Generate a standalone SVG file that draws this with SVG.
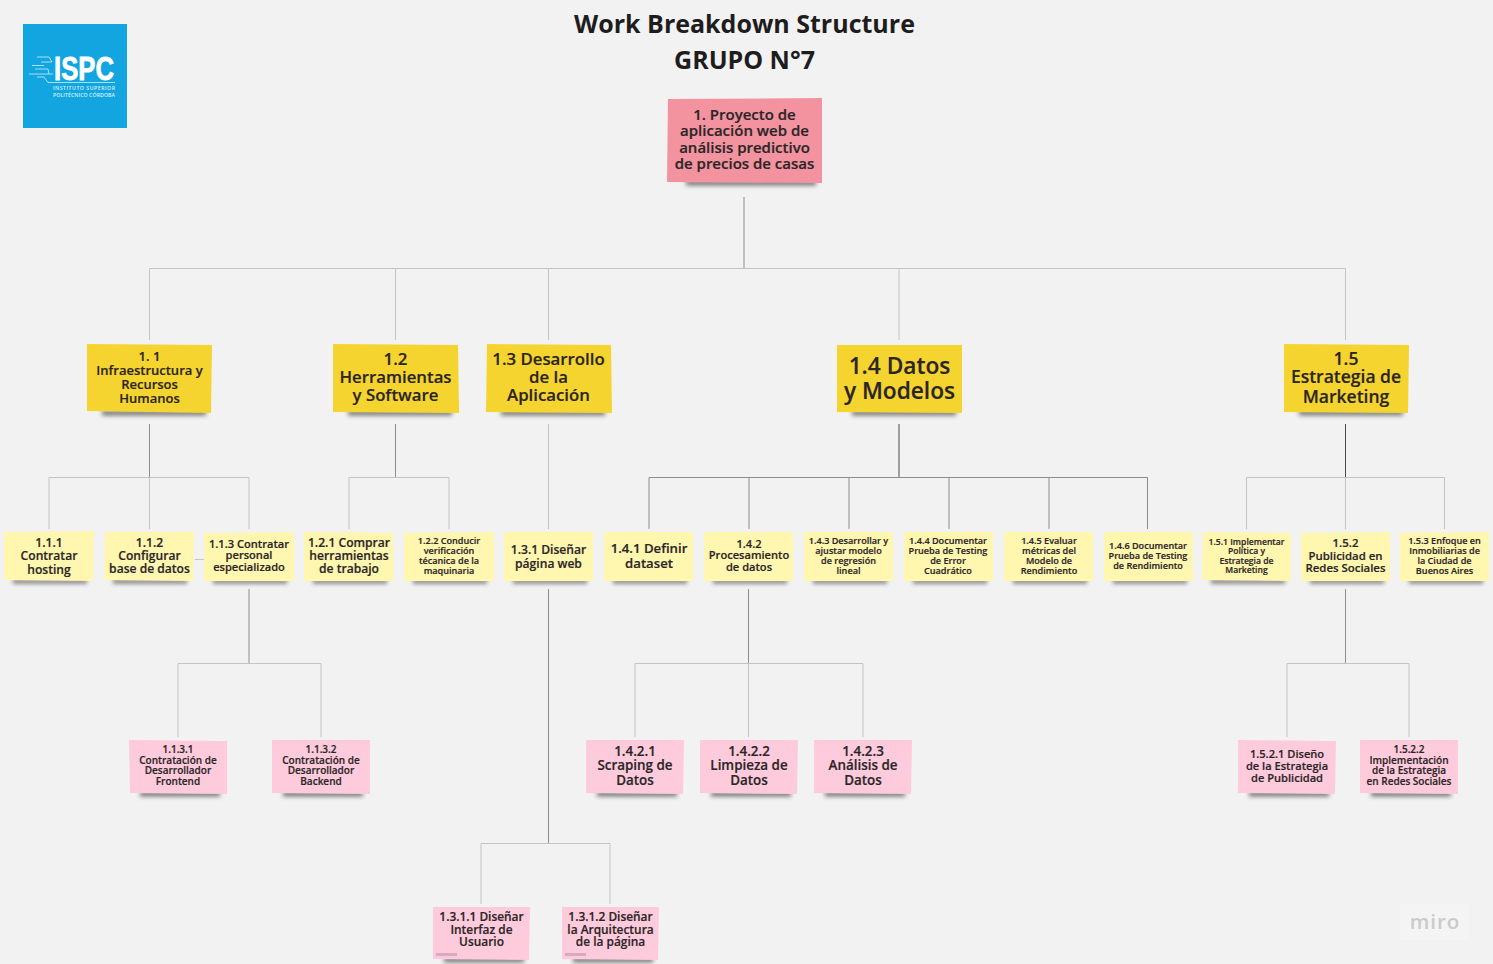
<svg xmlns="http://www.w3.org/2000/svg" width="1493" height="964" viewBox="0 0 1493 964">
<style>
text{font-family:"Open Sans","Liberation Sans",sans-serif;font-weight:600;text-anchor:middle;fill:#2a2526;stroke:#2a2526;stroke-width:.18}
.title{font-size:25px;font-weight:700;fill:#1f1c1d;stroke:none}
.sh{fill:#2c2c2c;opacity:.62;filter:url(#b);transform:translateY(1.5px)}
.red{fill:#f2939f}.gold{fill:#f6d42f}.yel{fill:#fff6b0}.pink{fill:#fecbdc}
.c{fill:none;stroke:#c4c4c4;stroke-width:1}
.s{fill:none;stroke:#8e8e8e;stroke-width:1}
.d{fill:none;stroke:#4a4a4a;stroke-width:1}
.t8{font-size:8.6px}.t9{font-size:9.1px}.t10{font-size:10px}.t11{font-size:11.1px}.t12{font-size:12.1px}.t12b{font-size:13.2px}.t13{font-size:13.4px}.t13s{font-size:13px}.t17{font-size:16.8px}.t17b{font-size:17.5px}.t23{font-size:22.7px}.t16{font-size:15px}.t12p{font-size:11.9px}.t11b{font-size:11.4px}
.circ{fill:none;stroke:#cfeefa;stroke-width:.8}
</style>
<defs><filter id="b" x="-20%" y="-100%" width="140%" height="300%"><feGaussianBlur stdDeviation="2.2"/></filter></defs>
<rect width="1493" height="964" fill="#f2f2f2"/>
<g id="connectors">
<path class="s" d="M744 197V268"/><path class="c" d="M149.500 340V268.500H1345.500V340M395.500 268V340M548.500 268V340M899 268V340"/>
<path class="s" d="M149.500 424V477M395.500 424V477"/><path class="d" d="M899 424V477M1345.500 424V477"/>
<path class="c" d="M49 529V477.500H249V529M149.500 477V529M349 529V477.500H449V529M548.500 424V529"/>
<path class="s" d="M649 529V477.500H1147.500V529M749 477V529M849 477V529M949 477V529M1049 477V529"/>
<path class="c" d="M1246.500 529V477.500H1444.500V529M1345.500 477V529M195 559.500H204"/>
<path class="s" d="M249 589V663M548.500 589V843M748.500 589V663M1345.500 589V663"/>
<path class="c" d="M178 737V663.500H321V737M481 904V843.500H610V904M635 737V663.500H863V737M748.500 663V737M1287 737V663.500H1409V737"/>
</g>
<g id="logo">
<rect x="23" y="24" width="104" height="104" fill="#12a5e0"/>
<text x="84" y="80" style="font-family:'Liberation Sans',sans-serif;font-weight:700;font-size:33px;fill:#fff;stroke:#fff;stroke-width:.8" textLength="60" lengthAdjust="spacingAndGlyphs">ISPC</text>
<path class="circ" d="M37 57H49L52 62M41 62H52M32 65.500H44M35 69H48L49 74M29 74H53M37 77H44L48 82.500H115"/>
<text x="84" y="90" style="font-size:5.200px;fill:#d8f2fc;stroke:none" textLength="62">INSTITUTO SUPERIOR</text>
<text x="84" y="97" style="font-size:5.200px;fill:#d8f2fc;stroke:none" textLength="62">POLITÉCNICO CÓRDOBA</text>
</g>
<g id="title"><text class="title" x="744.500" y="33">Work Breakdown Structure</text><text class="title" x="744.500" y="69">GRUPO N°7</text></g>

<g id="n1"><rect class="sh" x="686" y="179" width="130" height="5"/><path class="red" d="M668 99L822 98V183L667 182Z"/><text class="t16" x="744.500" y="120">1. Proyecto de</text><text class="t16" x="744.500" y="136">aplicación web de</text><text class="t16" x="744.500" y="153">análisis predictivo</text><text class="t16" x="744.500" y="169">de precios de casas</text></g>

<g id="n1-1"><rect class="sh" x="102" y="409" width="104" height="5"/><path class="gold" d="M87 344L212 345L211 413L87 411Z"/><text class="t13s" x="149.500" y="361">1. 1</text><text class="t13s" x="149.500" y="375">Infraestructura y</text><text class="t13s" x="149.500" y="389">Recursos</text><text class="t13s" x="149.500" y="403">Humanos</text></g>
<g id="n1-2"><rect class="sh" x="348" y="409" width="104" height="5"/><path class="gold" d="M333 344L458 345L459 413L333 412Z"/><text class="t17" x="395.500" y="365">1.2</text><text class="t17" x="395.500" y="383">Herramientas</text><text class="t17" x="395.500" y="401">y Software</text></g>
<g id="n1-3"><rect class="sh" x="501" y="409" width="104" height="5"/><path class="gold" d="M487 344L611 345L612 413L486 412Z"/><text class="t17" x="548.500" y="365">1.3 Desarrollo</text><text class="t17" x="548.500" y="383">de la</text><text class="t17" x="548.500" y="401">Aplicación</text></g>
<g id="n1-4"><rect class="sh" x="852" y="409" width="104" height="5"/><path class="gold" d="M837 345L962 345L962 413L837 412Z"/><text class="t23" x="899.500" y="374">1.4 Datos</text><text class="t23" x="899.500" y="399">y Modelos</text></g>
<g id="n1-5"><rect class="sh" x="1299" y="409" width="104" height="5"/><path class="gold" d="M1284 344L1409 345L1408 413L1284 412Z"/><text class="t17b" x="1346" y="365">1.5</text><text class="t17b" x="1346" y="383">Estrategia de</text><text class="t17b" x="1346" y="403">Marketing</text></g>

<g id="n1-1-1"><rect class="sh" x="13" y="578" width="74" height="4"/><path class="yel" d="M4 532L94 531L93 581L4 580Z"/><text class="t12" x="49" y="547">1.1.1</text><text class="t12" x="49" y="560">Contratar</text><text class="t12" x="49" y="574">hosting</text></g>
<g id="n1-1-2"><rect class="sh" x="113" y="578" width="74" height="4"/><path class="yel" d="M105 532L194 532L193 581L104 580Z"/><text class="t12" x="149.500" y="547">1.1.2</text><text class="t12" x="149.500" y="560">Configurar</text><text class="t12" x="149.500" y="573">base de datos</text></g>
<g id="n1-1-3"><rect class="sh" x="213" y="578" width="74" height="4"/><path class="yel" d="M204 533L294 532L294 581L204 581Z"/><text class="t11" x="249" y="548">1.1.3 Contratar</text><text class="t11" x="249" y="559">personal</text><text class="t11" x="249" y="571">especializado</text></g>
<g id="n1-2-1"><rect class="sh" x="313" y="578" width="74" height="4"/><path class="yel" d="M304 532L393 533L394 581L304 581Z"/><text class="t12" x="349" y="547">1.2.1 Comprar</text><text class="t12" x="349" y="560">herramientas</text><text class="t12" x="349" y="573">de trabajo</text></g>
<g id="n1-2-2"><rect class="sh" x="413" y="578" width="74" height="4"/><path class="yel" d="M404 533L494 532L494 581L404 581Z"/><text class="t9" x="449" y="544">1.2.2 Conducir</text><text class="t9" x="449" y="554">verificación</text><text class="t9" x="449" y="564">técanica de la</text><text class="t9" x="449" y="574">maquinaria</text></g>
<g id="n1-3-1"><rect class="sh" x="513" y="578" width="74" height="4"/><path class="yel" d="M504 532L593 532L593 581L504 581Z"/><text class="t12" x="548.500" y="554">1.3.1 Diseñar</text><text class="t12" x="548.500" y="568">página web</text></g>
<g id="n1-4-1"><rect class="sh" x="613" y="578" width="74" height="4"/><path class="yel" d="M604 532L693 532L693 581L604 581Z"/><text class="t12b" x="649" y="553">1.4.1 Definir</text><text class="t12b" x="649" y="568">dataset</text></g>
<g id="n1-4-2"><rect class="sh" x="713" y="578" width="74" height="4"/><path class="yel" d="M704 532L793 532L793 581L704 581Z"/><text class="t11" x="749" y="548">1.4.2</text><text class="t11" x="749" y="559">Procesamiento</text><text class="t11" x="749" y="571">de datos</text></g>
<g id="n1-4-3"><rect class="sh" x="813" y="578" width="74" height="4"/><path class="yel" d="M804 532L893 532L893 581L804 581Z"/><text class="t9" x="848.500" y="544">1.4.3 Desarrollar y</text><text class="t9" x="848.500" y="554">ajustar modelo</text><text class="t9" x="848.500" y="564">de regresión</text><text class="t9" x="848.500" y="574">lineal</text></g>
<g id="n1-4-4"><rect class="sh" x="913" y="578" width="74" height="4"/><path class="yel" d="M904 532L993 532L993 581L904 581Z"/><text class="t9" x="948" y="544">1.4.4 Documentar</text><text class="t9" x="948" y="554">Prueba de Testing</text><text class="t9" x="948" y="564">de Error</text><text class="t9" x="948" y="574">Cuadrático</text></g>
<g id="n1-4-5"><rect class="sh" x="1013" y="578" width="74" height="4"/><path class="yel" d="M1004 532L1093 532L1093 581L1004 581Z"/><text class="t9" x="1049" y="544">1.4.5 Evaluar</text><text class="t9" x="1049" y="554">métricas del</text><text class="t9" x="1049" y="564">Modelo de</text><text class="t9" x="1049" y="574">Rendimiento</text></g>
<g id="n1-4-6"><rect class="sh" x="1113" y="578" width="74" height="4"/><path class="yel" d="M1104 532L1193 532L1193 581L1104 581Z"/><text class="t9" x="1148" y="549">1.4.6 Documentar</text><text class="t9" x="1148" y="559">Prueba de Testing</text><text class="t9" x="1148" y="569">de Rendimiento</text></g>
<g id="n1-5-1"><rect class="sh" x="1211" y="578" width="74" height="4"/><path class="yel" d="M1203 532L1291 533L1291 581L1202 580Z"/><text class="t8" x="1246.500" y="545">1.5.1 Implementar</text><text class="t8" x="1246.500" y="554">Política y</text><text class="t8" x="1246.500" y="563.500">Estrategia de</text><text class="t8" x="1246.500" y="573">Marketing</text></g>
<g id="n1-5-2"><rect class="sh" x="1310" y="578" width="74" height="4"/><path class="yel" d="M1301 533L1390 532L1390 581L1301 581Z"/><text class="t11b" x="1345.500" y="547">1.5.2</text><text class="t11b" x="1345.500" y="560">Publicidad en</text><text class="t11b" x="1345.500" y="572">Redes Sociales</text></g>
<g id="n1-5-3"><rect class="sh" x="1409" y="578" width="74" height="4"/><path class="yel" d="M1400 533L1489 532L1489 581L1400 581Z"/><text class="t9" x="1444.500" y="544">1.5.3 Enfoque en</text><text class="t9" x="1444.500" y="554">Inmobiliarias de</text><text class="t9" x="1444.500" y="564">la Ciudad de</text><text class="t9" x="1444.500" y="574">Buenos Aires</text></g>

<g id="n1-1-3-1"><rect class="sh" x="140" y="790" width="80" height="5"/><path class="pink" d="M129 740L227 741L227 794L130 793Z"/><text class="t10" x="178" y="753">1.1.3.1</text><text class="t10" x="178" y="764">Contratación de</text><text class="t10" x="178" y="774">Desarrollador</text><text class="t10" x="178" y="785">Frontend</text></g>
<g id="n1-1-3-2"><rect class="sh" x="283" y="790" width="80" height="5"/><path class="pink" d="M272 740L370 740L370 794L272 793Z"/><text class="t10" x="321" y="753">1.1.3.2</text><text class="t10" x="321" y="764">Contratación de</text><text class="t10" x="321" y="774">Desarrollador</text><text class="t10" x="321" y="785">Backend</text></g>
<g id="n1-4-2-1"><rect class="sh" x="597" y="790" width="80" height="5"/><path class="pink" d="M586 740L684 740L683 794L586 793Z"/><text class="t13" x="635" y="756">1.4.2.1</text><text class="t13" x="635" y="770">Scraping de</text><text class="t13" x="635" y="785">Datos</text></g>
<g id="n1-4-2-2"><rect class="sh" x="711" y="790" width="80" height="5"/><path class="pink" d="M700 740L798 740L797 794L700 793Z"/><text class="t13" x="749" y="756">1.4.2.2</text><text class="t13" x="749" y="770">Limpieza de</text><text class="t13" x="749" y="785">Datos</text></g>
<g id="n1-4-2-3"><rect class="sh" x="825" y="790" width="80" height="5"/><path class="pink" d="M814 740L912 740L911 794L814 793Z"/><text class="t13" x="863" y="756">1.4.2.3</text><text class="t13" x="863" y="770">Análisis de</text><text class="t13" x="863" y="785">Datos</text></g>
<g id="n1-5-2-1"><rect class="sh" x="1249" y="790" width="80" height="5"/><path class="pink" d="M1238 740L1336 741L1335 794L1238 793Z"/><text class="t11" x="1287" y="758">1.5.2.1 Diseño</text><text class="t11" x="1287" y="770">de la Estrategia</text><text class="t11" x="1287" y="782">de Publicidad</text></g>
<g id="n1-5-2-2"><rect class="sh" x="1371" y="790" width="80" height="5"/><path class="pink" d="M1360 740L1458 740L1458 794L1360 793Z"/><text class="t10" x="1409" y="753">1.5.2.2</text><text class="t10" x="1409" y="764">Implementación</text><text class="t10" x="1409" y="774">de la Estrategia</text><text class="t10" x="1409" y="785">en Redes Sociales</text></g>
<g id="n1-3-1-1"><rect class="sh" x="444" y="956" width="80" height="5"/><path class="pink" d="M433 907L530 907L529 960L433 959Z"/><rect x="436" y="953" width="21" height="3" fill="#d9a9bd"/><text class="t12p" x="481.500" y="921">1.3.1.1 Diseñar</text><text class="t12p" x="481.500" y="934">Interfaz de</text><text class="t12p" x="481.500" y="946">Usuario</text></g>
<g id="n1-3-1-2"><rect class="sh" x="573" y="956" width="80" height="5"/><path class="pink" d="M562 907L659 907L658 960L562 959Z"/><rect x="565" y="953" width="21" height="3" fill="#d9a9bd"/><text class="t12p" x="610.500" y="921">1.3.1.2 Diseñar</text><text class="t12p" x="610.500" y="934">la Arquitectura</text><text class="t12p" x="610.500" y="946">de la página</text></g>

<g id="miro"><rect x="1400" y="904" width="69" height="36" fill="#f4f4f4"/><text x="1435" y="929" style="font-size:20.500px;fill:#cacace;stroke:none;letter-spacing:1px">miro</text></g>
</svg>
